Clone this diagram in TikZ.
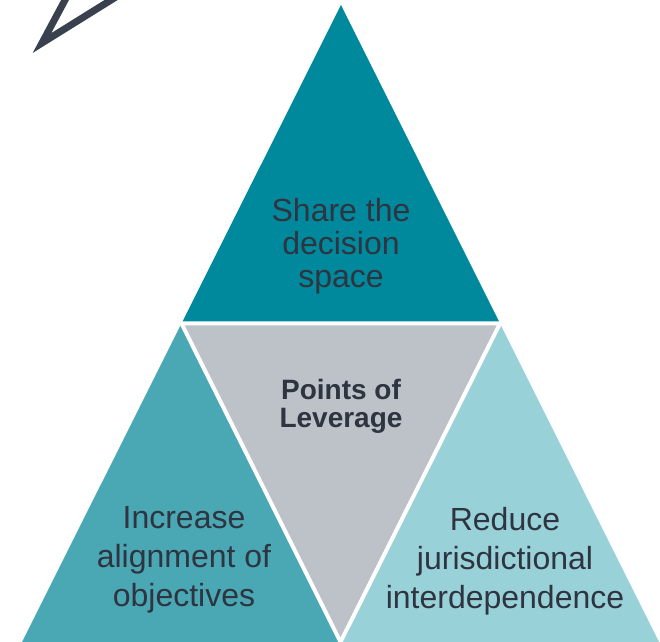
\documentclass[tikz,border=0pt]{standalone}
\usepackage{fontspec}
\setmainfont{Liberation Sans}
\usepackage{xcolor}
\definecolor{tealdark}{HTML}{00899D}
\definecolor{tealmid}{HTML}{4AA7B4}
\definecolor{teallight}{HTML}{99D1D9}
\definecolor{leverage}{HTML}{BDC1C8}
\definecolor{inktext}{HTML}{2E3440}
\definecolor{outline}{HTML}{38414D}

\begin{document}
\begin{tikzpicture}[x=0.5pt,y=-0.5pt,
                    gap line/.style={draw=white,line width=2pt,line join=miter},
                    side text/.style={text=inktext,align=center,font=\fontsize{16}{19.5}\selectfont},
                    top text/.style={text=inktext,align=center,font=\fontsize{16}{16.5}\selectfont},
                    mid text/.style={text=inktext,align=center,font=\fontsize{14}{14}\selectfont\bfseries}]

        \useasboundingbox (0,0) rectangle (660,642);
        \clip (0,0) rectangle (660,642);

        % corners of the big triangle and the midpoints of its sides
        \coordinate (apex) at (341,5);
        \coordinate (bl) at (22,642);
        \coordinate (br) at (659,642);
        \coordinate (ml) at (181.5,323.5);
        \coordinate (mr) at (500,323.5);
        \coordinate (mb) at (340.5,642);

        % the four parts
        \fill[tealdark] (apex) -- (ml) -- (mr) -- cycle;
        \fill[leverage] (ml) -- (mr) -- (mb) -- cycle;
        \fill[tealmid] (ml) -- (mb) -- (bl) -- cycle;
        \fill[teallight] (mr) -- (br) -- (mb) -- cycle;
        \draw[gap line] (ml) -- (mr) -- (mb) -- cycle;

        % outline cut off at the top left
        \draw[outline,line width=3.5pt,line join=miter,miter limit=6] (72,-13) -- (42,43) -- (132,-13);

        \node[top text] (share) at (341,246) {Share the\\decision\\space};
        \node[mid text] (points) at (341,406) {Points of\\Leverage};
        \node[side text] (increase) at (184,560) {Increase\\alignment of\\objectives};
        \node[side text] (reduce) at (505,561) {Reduce\\jurisdictional\\interdependence};
\end{tikzpicture}
\end{document}
